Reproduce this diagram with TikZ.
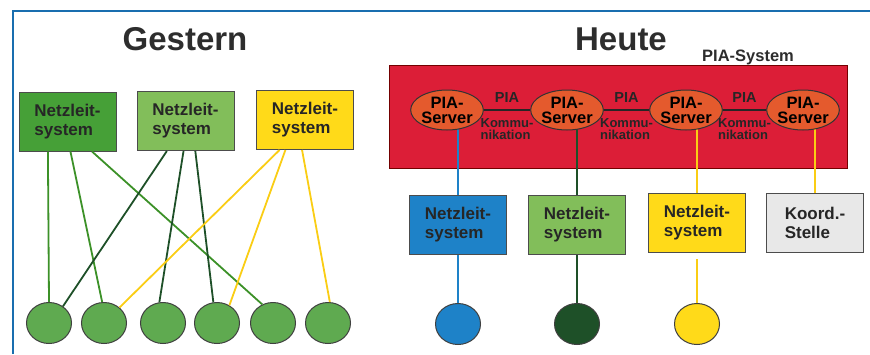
\documentclass[tikz,border=0pt]{standalone}
\usepackage{fontspec}
\setmainfont{Liberation Sans}
\usepackage{tikz}
\usetikzlibrary{shapes.geometric, calc, positioning}
\definecolor{rahmenblau}{RGB}{25,110,175}
\definecolor{nlsgruen}{RGB}{70,160,55}
\definecolor{nlshell}{RGB}{130,190,90}
\definecolor{nlsgelb}{RGB}{255,218,25}
\definecolor{liniegelb}{RGB}{250,205,20}
\definecolor{nlsblau}{RGB}{30,130,200}
\definecolor{dunkelgruen}{RGB}{30,80,40}
\definecolor{liniegruen}{RGB}{60,145,40}
\definecolor{piarot}{RGB}{220,30,55}
\definecolor{servorange}{RGB}{228,90,45}
\definecolor{kreisgruen}{RGB}{95,170,80}
\definecolor{koordgrau}{RGB}{232,232,232}
\definecolor{textgrau}{RGB}{45,45,45}
\tikzset{
  nls/.style={
    rectangle, draw=black!70, line width=1pt,
    minimum width=97pt, minimum height=59pt, inner sep=0pt,
    align=left, text=black!85, font=\fontsize{17}{19}\selectfont\bfseries},
  feld/.style={
    ellipse, draw=black!75, line width=1pt,
    minimum width=45pt, minimum height=41pt, inner sep=0pt},
  srv/.style={
    ellipse, draw=black!80, fill=servorange, line width=1pt,
    minimum width=66pt, minimum height=40pt, inner sep=0pt,
    align=center, font=\fontsize{16.5}{15}\selectfont\bfseries},
  titel/.style={anchor=base, text=textgrau, font=\fontsize{33}{33}\selectfont\bfseries},
  komm/.style={align=left, text=black!85, font=\fontsize{13}{12.5}\selectfont\bfseries},
  lnk/.style={line width=1.8pt},
}
\begin{document}
\begin{tikzpicture}[x=1pt, y=-1pt]
  \useasboundingbox (0,0) rectangle (870,354);
  % Rahmen
  \draw[rahmenblau, line width=2pt] (13,354) -- (13,11) -- (870,11);
  \node[titel] (gestern) at (185,50) {Gestern};
  \node[titel] (heute) at (621,50) {Heute};

  % Gestern
  \node[nls, fill=nlsgruen] (altA) at (67.5,121.5) {Netzleit-\\system};
  \node[nls, fill=nlshell] (altB) at (185.5,121) {Netzleit-\\system};
  \node[nls, fill=nlsgelb] (altC) at (305,120) {Netzleit-\\system};
  \foreach \x [count=\i] in {49,104,163,217,273,328}
    \node[feld, fill=kreisgruen] (f\i) at (\x,323) {};
  \draw[lnk, liniegruen] ($(altA.south west)!0.30!(altA.south east)$) -- (f1.north);
  \draw[lnk, liniegruen] ($(altA.south west)!0.53!(altA.south east)$) -- (f2.95);
  \draw[lnk, liniegruen] ($(altA.south west)!0.75!(altA.south east)$) -- (f5.120);
  \draw[lnk, dunkelgruen] ($(altB.south west)!0.31!(altB.south east)$) -- (f1.50);
  \draw[lnk, dunkelgruen] ($(altB.south west)!0.48!(altB.south east)$) -- (f3.100);
  \draw[lnk, dunkelgruen] ($(altB.south west)!0.60!(altB.south east)$) -- (f4.100);
  \draw[lnk, liniegelb] ($(altC.south west)!0.24!(altC.south east)$) -- (f2.45);
  \draw[lnk, liniegelb] ($(altC.south west)!0.30!(altC.south east)$) -- (f4.55);
  \draw[lnk, liniegelb] ($(altC.south west)!0.47!(altC.south east)$) -- (f6.85);

  % Heute
  \node[rectangle, fill=piarot, draw=red!45!black, line width=0.8pt,
        minimum width=458pt, minimum height=103pt] (pia) at (618,116.5) {};
  \node[anchor=base, text=textgrau, font=\fontsize{16.5}{16}\selectfont\bfseries]
        (piasys) at (748,61) {PIA-System};
  \node[nls, fill=nlsblau] (neuA) at (458,225) {Netzleit-\\system};
  \node[nls, fill=nlshell, right=21pt of neuA] (neuB) {Netzleit-\\system};
  \node[nls, fill=nlsgelb, right=22pt of neuB, yshift=2pt] (neuC) {Netzleit-\\system};
  \node[nls, fill=koordgrau, right=20pt of neuC] (koord) {Koord.-\\Stelle};
  \node[feld, fill=nlsblau, below=48pt of neuA] (nA) {};
  \node[feld, fill=dunkelgruen, below=48pt of neuB] (nB) {};
  \node[feld, fill=nlsgelb, below=50pt of neuC] (nC) {};
  \foreach \x [count=\i] in {447,567,686,803}
    \coordinate (p\i) at (\x,110);
  \draw[lnk, nlsblau] (neuA.north) -- (neuA.north |- p1);
  \draw[lnk, dunkelgruen] (neuB.north) -- (neuB.north |- p2);
  \draw[lnk, liniegelb] (neuC.north) -- (neuC.north |- p3);
  \draw[lnk, liniegelb] (koord.north) -- (koord.north |- p4);
  \foreach \i in {1,...,4}
    \node[srv] (s\i) at (p\i) {PIA-\\Server};
  \foreach \a/\b in {1/2,2/3,3/4}
    \draw[line width=2.2pt, black!85] (s\a) --
      node[above=3pt, komm, font=\fontsize{14.5}{14}\selectfont\bfseries] (pl\a) {PIA}
      node[below=4pt, komm] (kl\a) {Kommu-\\nikation} (s\b);
  \draw[lnk, nlsblau] (neuA) -- (nA);
  \draw[lnk, dunkelgruen] (neuB) -- (nB);
  \draw[lnk, liniegelb, shorten <=6pt] (neuC) -- (nC);
\end{tikzpicture}
\end{document}
